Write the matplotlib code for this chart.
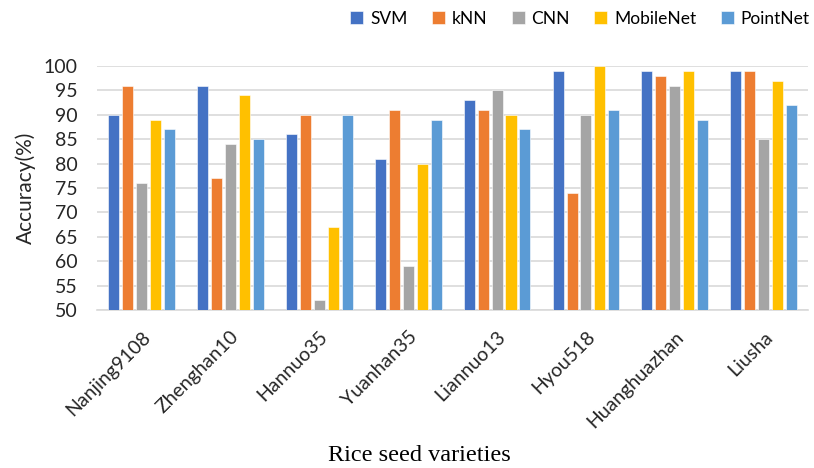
import matplotlib
matplotlib.use("Agg")
import matplotlib.pyplot as plt
import numpy as np

varieties = ["Nanjing9108", "Zhenghan10", "Hannuo35", "Yuanhan35",
             "Liannuo13", "Hyou518", "Huanghuazhan", "Liusha"]
models = ["SVM", "kNN", "CNN", "MobileNet", "PointNet"]
svm = [90, 96, 86, 81, 93, 99, 99, 99]
knn = [96, 77, 90, 91, 91, 74, 98, 99]
cnn = [76, 84, 52, 59, 95, 90, 96, 85]
mobilenet = [89, 94, 67, 80, 90, 100, 99, 97]
pointnet = [87, 85, 90, 89, 87, 91, 89, 92]
yticks = [50, 55, 60, 65, 70, 75, 80, 85, 90, 95, 100]

series = [svm, knn, cnn, mobilenet, pointnet]
colors = ["#4472C4", "#ED7D31", "#A5A5A5", "#FFC000", "#5B9BD5"]

plt.rcParams["font.family"] = ["Lato", "DejaVu Sans"]

fig = plt.figure(figsize=(8.14, 4.68), dpi=100)
ax = fig.add_axes([0.119, 0.3376, 0.874, 0.5214])

x = np.arange(len(varieties))
step = 0.157
width = 0.124
base = 50
for i, (vals, c, name) in enumerate(zip(series, colors, models)):
    offs = (i - 2) * step
    ax.bar(x + offs, np.array(vals) - base, width=width, bottom=base,
           color=c, label=name, zorder=3, edgecolor="white", linewidth=0.4)

ax.set_xlim(-0.5, len(varieties) - 0.5)
ax.set_ylim(50, 100)
ax.set_yticks(yticks)
ax.yaxis.grid(True, color="#D9D9D9", linewidth=1.2, zorder=0)
for s in ["top", "right", "left"]:
    ax.spines[s].set_visible(False)
ax.spines["bottom"].set_color("#D9D9D9")
ax.spines["bottom"].set_linewidth(1.2)
ax.tick_params(axis="both", length=0, labelsize=14, colors="#262626")
ax.tick_params(axis="y", pad=14)
ax.tick_params(axis="x", pad=13)
ax.set_xticks(x)
ax.set_xticklabels(varieties, rotation=45, ha="right", rotation_mode="anchor")
ax.set_ylabel("Accuracy(%)", fontsize=15, color="#262626")
ax.yaxis.set_label_coords(-0.085, 0.5)
ax.set_xlabel("Rice seed varieties", fontsize=17.5,
              family=["Liberation Serif", "DejaVu Serif"])
ax.xaxis.set_label_coords(0.453, -0.555)

leg = ax.legend(loc="center right", bbox_to_anchor=(1.024, 1.193), ncol=5,
                frameon=False, fontsize=12.5, handlelength=0.75, handleheight=0.75,
                handletextpad=0.4, columnspacing=1.4)

fig.savefig("out.png", dpi=100)
